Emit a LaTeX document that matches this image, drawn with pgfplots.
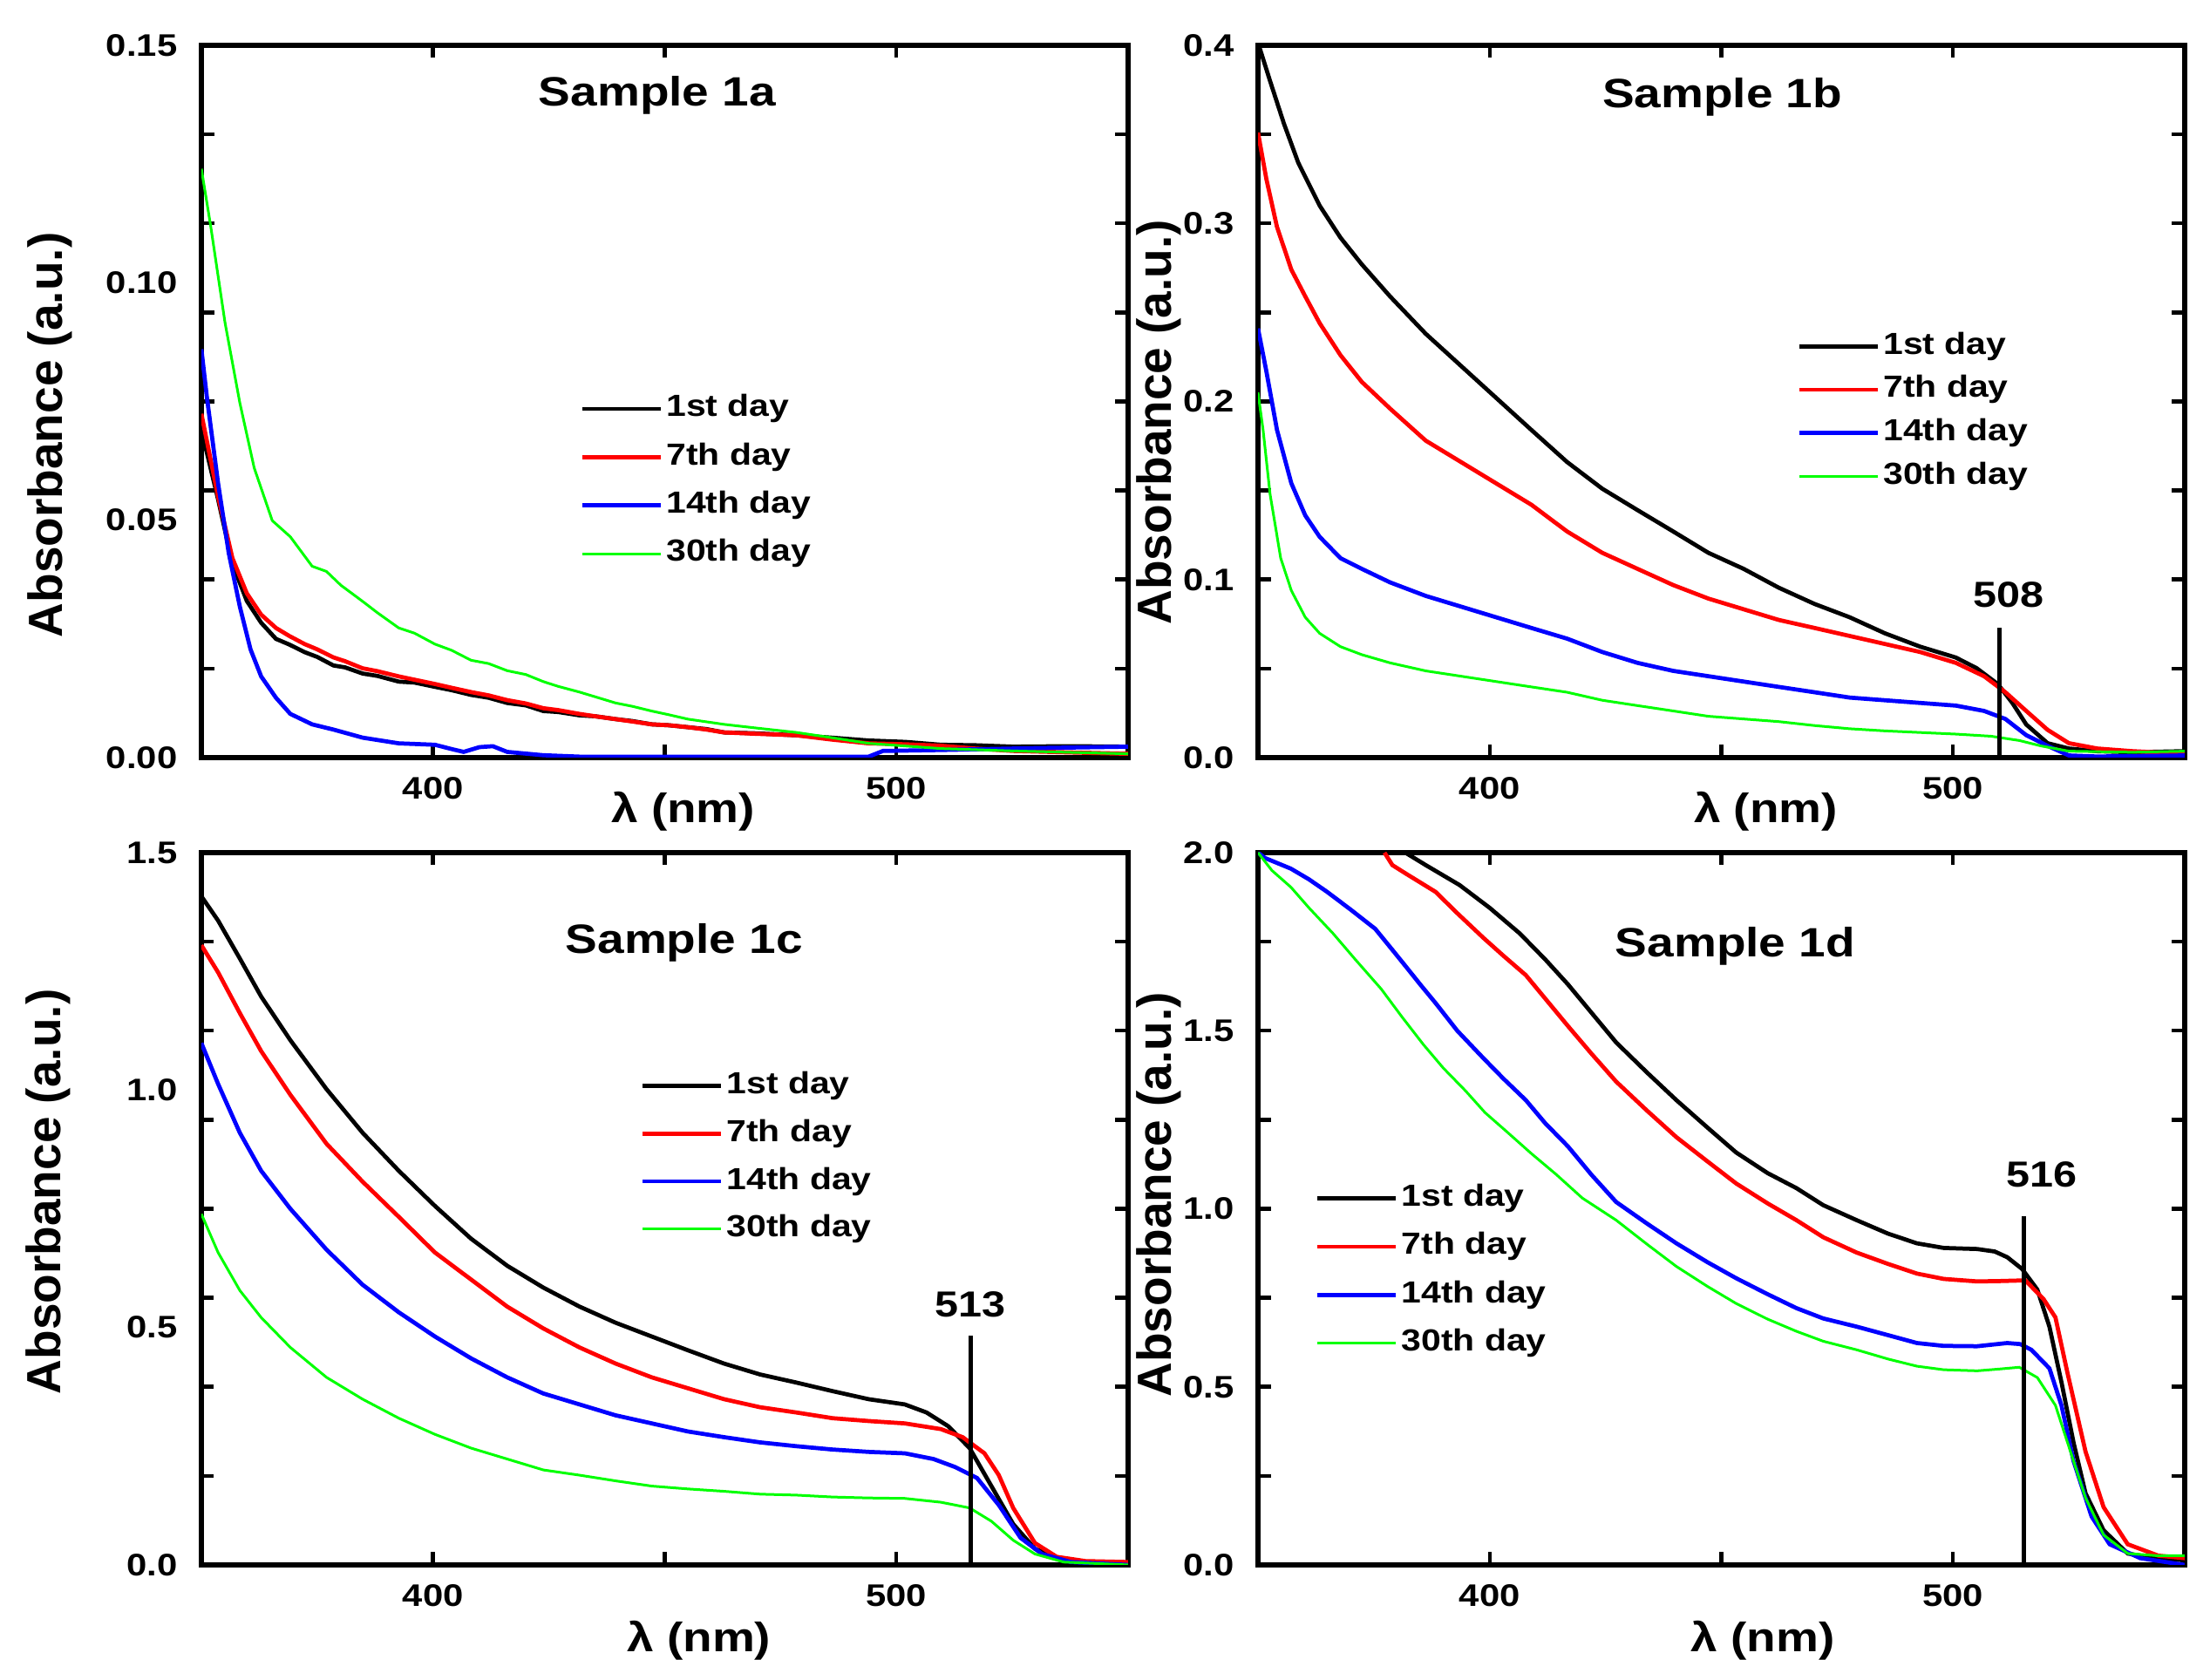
\documentclass[border=0pt]{standalone}
\usepackage{fontspec}
\setmainfont{Liberation Sans}
\newfontfamily\sx[FakeStretch=1.17]{Liberation Sans}
\usepackage{pgfplots}
\pgfplotsset{compat=1.18}
\definecolor{cgreen}{RGB}{0,255,0}
\definecolor{cred}{RGB}{255,0,0}
\definecolor{cblue}{RGB}{0,0,255}
\tikzset{ann/.style={font=\sx\bfseries\fontsize{8.3}{10}\selectfont}}
\pgfplotsset{
 uvstyle/.style={
   scale only axis, width=212.6pt, height=163.4pt,
   xmin=350, xmax=550,
   xtick={400,450,500}, xticklabels={400,,500},
   axis line style={line width=1.05pt},
   every tick/.style={black, line width=0.9pt},
   major tick length=2.9pt, minor tick length=2.9pt,
   tick label style={font=\sx\bfseries\fontsize{7.15}{8.6}\selectfont},
   yticklabel style={xshift=-2.0pt},
   xticklabel style={yshift=-0.9pt},
   xlabel style={font=\sx\bfseries\fontsize{9.4}{11}\selectfont},
   ylabel style={font=\bfseries\fontsize{11}{13}\selectfont},
   every axis title/.style={at={(0.5,1)}, anchor=center, font=\sx\bfseries\fontsize{9.4}{11}\selectfont},
   ylabel={Absorbance (a.u.)},
   xlabel={λ (nm)},
   legend style={draw=none, fill=none, inner sep=0pt, anchor=west,
     font=\sx\bfseries\fontsize{7}{8.4}\selectfont, cells={anchor=west},
     nodes={inner xsep=0.8pt, inner ysep=0pt}},
   legend image code/.code={\draw[##1] (0pt,0pt) -- (18pt,0pt);},
 },
 l1/.style={black, line width=0.95pt},
 l7/.style={cred, line width=0.95pt},
 l14/.style={cblue, line width=0.95pt},
 l30/.style={cgreen, line width=0.6pt},
}
\begin{document}
\begin{tikzpicture}
\path[use as bounding box] (0,0) rectangle (507pt,385.4pt);
% ---------------- Sample 1a
\begin{axis}[uvstyle, at={(46.2pt,211.6pt)}, anchor=south west,
  ymin=0, ymax=0.15,
  ytick={0.01875,0.0375,0.05625,0.075,0.09375,0.1125,0.13125}, yticklabels={},
  extra y ticks={0,0.05,0.10,0.15}, extra y tick labels={0.00,0.05,0.10,0.15},
  extra y tick style={tick style={draw=none}},
  title={Sample 1a}, title style={at={(axis description cs:0.492,0.93)}},
  ylabel style={at={(axis description cs:-0.163,0.453)}, anchor=center},
  xlabel style={at={(axis description cs:0.52,-0.076)}, anchor=center},
  legend style={at={(axis description cs:0.4078,0.388)}, row sep=4.5pt}]
\addplot[l1] coordinates {(350,0.069) (353.6,0.0544) (356.7,0.0408) (359.8,0.033) (362.9,0.0284) (366.1,0.025) (369,0.0238) (372.3,0.0222) (375,0.0212) (378.5,0.0194) (381,0.0190) (384.8,0.0177) (388,0.0172) (392.6,0.016) (396,0.0158) (400.4,0.0149) (404,0.0142) (408.2,0.0132) (412,0.0126) (416,0.0115) (420,0.0110) (423.8,0.0098) (427,0.0096) (431.6,0.0089) (435,0.0087) (439.4,0.0081) (443,0.0077) (447.2,0.007) (451,0.0068) (455,0.0064) (459,0.0060) (462.8,0.0053) (470,0.0051) (478.4,0.0047) (486,0.0042) (494,0.0036) (502,0.0033) (509.6,0.0027) (517,0.0026) (525.2,0.0023) (537,0.0024) (550,0.0023)};
\addlegendentry{1st day}
\addplot[l7] coordinates {(350,0.0724) (353.6,0.055) (356.7,0.042) (359.8,0.0346) (362.9,0.0301) (366.1,0.0273) (369,0.0256) (372.3,0.0239) (375,0.0228) (378.5,0.0211) (381,0.0203) (384.8,0.0188) (388,0.0182) (392.6,0.0171) (396,0.0164) (400.4,0.0155) (404,0.0147) (408.2,0.0138) (412,0.0131) (416,0.0121) (420,0.0114) (423.8,0.0104) (427,0.0100) (431.6,0.0092) (435,0.0087) (439.4,0.0081) (443,0.0076) (447.2,0.007) (451,0.0068) (455,0.0064) (459,0.0059) (462.8,0.0053) (470,0.0050) (478.4,0.0047) (486,0.0038) (494,0.003) (502,0.0028) (509.6,0.0025) (517,0.0019) (525.2,0.0014) (537,0.0011) (550,0.0008)};
\addlegendentry{7th day}
\addplot[l14] coordinates {(350,0.086) (351.2,0.0758) (353.6,0.0578) (355.9,0.0431) (358.3,0.0318) (360.6,0.0228) (362.9,0.0171) (366.1,0.0126) (369.2,0.0092) (373.9,0.007) (378.5,0.0059) (384.8,0.0042) (392.6,0.003) (400.4,0.0027) (404,0.0018) (406.6,0.0012) (410,0.0022) (412.9,0.0024) (416,0.0012) (423.8,0.0005) (431.6,0.0002) (494,0.0002) (497.1,0.0014) (509.6,0.0016) (530,0.0020) (550,0.0023)};
\addlegendentry{14th day}
\addplot[l30] coordinates {(350,0.124) (352,0.112) (355.1,0.0916) (358.3,0.0747) (361.4,0.061) (365.3,0.0499) (369.2,0.0465) (373.9,0.0403) (377,0.0392) (380.1,0.0363) (384.8,0.0329) (388,0.0305) (392.6,0.0273) (396,0.0262) (400.4,0.0239) (404,0.0226) (408.2,0.0205) (412,0.0198) (416,0.0183) (420,0.0175) (423.8,0.016) (427,0.0150) (431.6,0.0138) (435,0.0128) (439.4,0.0115) (443,0.0108) (447.2,0.0098) (451,0.0090) (455,0.0081) (462.8,0.007) (470,0.0062) (478.4,0.0053) (486,0.0042) (494,0.003) (509.6,0.0019) (525.2,0.0014) (550,0.0008)};
\addlegendentry{30th day}
\end{axis}
% ---------------- Sample 1b
\begin{axis}[uvstyle, at={(288.6pt,211.6pt)}, anchor=south west,
  ymin=0, ymax=0.4,
  ytick={0,0.05,0.1,0.15,0.2,0.25,0.3,0.35,0.4}, yticklabels={0.0,,0.1,,0.2,,0.3,,0.4},
  title={Sample 1b}, title style={at={(axis description cs:0.501,0.927)}},
  ylabel style={at={(axis description cs:-0.107,0.471)}, anchor=center},
  xlabel style={at={(axis description cs:0.548,-0.076)}, anchor=center},
  legend style={at={(axis description cs:0.581,0.486)}, row sep=3.4pt}]
\addplot[l1] coordinates {(350.3,0.399) (352.6,0.380) (355.6,0.356) (358.7,0.334) (363.3,0.310) (367.8,0.292) (372.4,0.277) (378.5,0.259) (386.2,0.238) (393.8,0.220) (401.4,0.202) (409,0.184) (416.7,0.166) (424.3,0.151) (431.9,0.139) (439.6,0.127) (447.2,0.115) (454.8,0.106) (462.4,0.0954) (470.1,0.0863) (477.7,0.0788) (485.3,0.0698) (492.9,0.0623) (500.6,0.0562) (505.1,0.0502) (509.7,0.0412) (512.8,0.0307) (515.8,0.0186) (520.4,0.0081) (525,0.0051) (531.1,0.0036) (538.7,0.003) (550,0.0036)};
\addlegendentry{1st day}
\addplot[l7] coordinates {(350,0.351) (351.8,0.325) (354.1,0.298) (357.2,0.274) (360.2,0.259) (363.3,0.244) (367.8,0.226) (372.4,0.211) (378.5,0.196) (386.2,0.178) (393.8,0.166) (401.4,0.154) (409,0.142) (416.7,0.127) (424.3,0.115) (431.9,0.106) (439.6,0.0969) (447.2,0.0893) (454.8,0.0833) (462.4,0.0773) (470.1,0.0728) (477.7,0.0683) (485.3,0.0638) (492.9,0.0593) (500.6,0.0532) (506.7,0.0457) (511.3,0.0367) (515.8,0.0262) (520.4,0.0156) (525,0.0081) (531.1,0.0051) (538.7,0.0036) (550,0.0021)};
\addlegendentry{7th day}
\addplot[l14] coordinates {(350,0.241) (351.8,0.217) (354.1,0.184) (357.2,0.154) (360.2,0.136) (363.3,0.124) (367.8,0.112) (372.4,0.106) (378.5,0.0984) (386.2,0.0908) (393.8,0.0848) (401.4,0.0788) (409,0.0728) (416.7,0.0668) (424.3,0.0593) (431.9,0.0532) (439.6,0.0487) (447.2,0.0457) (454.8,0.0427) (462.4,0.0397) (470.1,0.0367) (477.7,0.0337) (485.3,0.0322) (492.9,0.0307) (500.6,0.0292) (506.7,0.0262) (511.3,0.0217) (515.8,0.0126) (520.4,0.0066) (525,0.0012) (531.1,0.0006) (550,0.0012)};
\addlegendentry{14th day}
\addplot[l30] coordinates {(350,0.205) (351.1,0.184) (352.6,0.148) (354.9,0.112) (357.2,0.0938) (360.2,0.0788) (363.3,0.0698) (367.8,0.0623) (372.4,0.0578) (378.5,0.0532) (386.2,0.0487) (393.8,0.0457) (401.4,0.0427) (409,0.0397) (416.7,0.0367) (424.3,0.0322) (431.9,0.0292) (439.6,0.0262) (447.2,0.0232) (454.8,0.0217) (462.4,0.0202) (470.1,0.018) (477.7,0.0162) (485.3,0.015) (492.9,0.0141) (500.6,0.0132) (508.2,0.012) (514.3,0.0096) (518.9,0.0066) (525,0.0036) (538.7,0.003) (550,0.0036)};
\addlegendentry{30th day}
\addplot[black, line width=0.95pt, forget plot] coordinates {(510,0) (510,0.0728)};
\node[ann] at (axis cs:512,0.0913) {508};
\end{axis}
% ---------------- Sample 1c
\begin{axis}[uvstyle, at={(46.2pt,26.4pt)}, anchor=south west,
  ymin=0, ymax=1.5,
  ytick={0.1875,0.375,0.5625,0.75,0.9375,1.125,1.3125}, yticklabels={},
  extra y ticks={0,0.5,1.0,1.5}, extra y tick labels={0.0,0.5,1.0,1.5},
  extra y tick style={tick style={draw=none}},
  title={Sample 1c}, title style={at={(axis description cs:0.521,0.873)}},
  ylabel style={at={(axis description cs:-0.165,0.524)}, anchor=center},
  xlabel style={at={(axis description cs:0.537,-0.106)}, anchor=center},
  legend style={at={(axis description cs:0.473,0.572)}, row sep=4.4pt}]
\addplot[l1] coordinates {(350,1.408) (353.6,1.357) (358.3,1.277) (362.9,1.197) (369.2,1.105) (377,1.002) (384.8,0.910) (392.6,0.830) (400.4,0.756) (408.2,0.687) (416,0.630) (423.8,0.584) (431.6,0.544) (439.4,0.510) (447.2,0.481) (455,0.452) (462.8,0.424) (470.6,0.401) (478.4,0.384) (486.2,0.366) (494,0.349) (501.8,0.338) (506.5,0.321) (511.2,0.292) (515.8,0.246) (520.5,0.166) (525.2,0.086) (529.9,0.034) (534.6,0.015) (540.8,0.006) (550,0.003)};
\addlegendentry{1st day}
\addplot[l7] coordinates {(350,1.305) (353.6,1.248) (358.3,1.162) (362.9,1.082) (369.2,0.990) (377,0.887) (384.8,0.807) (392.6,0.733) (400.4,0.658) (408.2,0.601) (416,0.544) (423.8,0.498) (431.6,0.458) (439.4,0.424) (447.2,0.395) (455,0.372) (462.8,0.349) (470.6,0.332) (478.4,0.321) (486.2,0.309) (494,0.303) (501.8,0.298) (509.6,0.286) (514.3,0.269) (519,0.235) (522.1,0.189) (525.2,0.120) (529.9,0.046) (534.6,0.017) (540.8,0.008) (550,0.006)};
\addlegendentry{7th day}
\addplot[l14] coordinates {(350,1.099) (353.6,1.013) (358.3,0.910) (362.9,0.830) (369.2,0.750) (377,0.664) (384.8,0.590) (392.6,0.532) (400.4,0.481) (408.2,0.435) (416,0.395) (423.8,0.361) (431.6,0.338) (439.4,0.315) (447.2,0.298) (455,0.281) (462.8,0.269) (470.6,0.258) (478.4,0.250) (486.2,0.243) (494,0.238) (501.8,0.235) (508,0.223) (512.7,0.206) (517.4,0.183) (522.1,0.126) (526.8,0.057) (531.4,0.023) (537.7,0.006) (550,0.0)};
\addlegendentry{14th day}
\addplot[l30] coordinates {(350,0.739) (353.6,0.658) (358.3,0.578) (362.9,0.521) (369.2,0.458) (377,0.395) (384.8,0.349) (392.6,0.309) (400.4,0.275) (408.2,0.246) (416,0.223) (423.8,0.200) (431.6,0.189) (439.4,0.177) (447.2,0.166) (455,0.160) (462.8,0.155) (470.6,0.149) (478.4,0.147) (486.2,0.143) (494,0.141) (501.8,0.140) (509.6,0.132) (515.8,0.120) (520.5,0.092) (525.2,0.052) (529.9,0.023) (536.1,0.006) (550,0.0)};
\addlegendentry{30th day}
\addplot[black, line width=0.95pt, forget plot] coordinates {(516,0) (516,0.483)};
\node[ann] at (axis cs:516,0.548) {513};
\end{axis}
% ---------------- Sample 1d
\begin{axis}[uvstyle, at={(288.6pt,26.4pt)}, anchor=south west,
  ymin=0, ymax=2.0,
  ytick={0,0.25,0.5,0.75,1.0,1.25,1.5,1.75,2.0}, yticklabels={0.0,,0.5,,1.0,,1.5,,2.0},
  title={Sample 1d}, title style={at={(axis description cs:0.515,0.868)}},
  ylabel style={at={(axis description cs:-0.107,0.52)}, anchor=center},
  xlabel style={at={(axis description cs:0.545,-0.106)}, anchor=center},
  legend style={at={(axis description cs:0.061,0.413)}, row sep=4.5pt}]
\addplot[l1] coordinates {(381.8,2.0) (386.2,1.965) (393.5,1.909) (400,1.845) (406.5,1.773) (412,1.700) (416.9,1.630) (422,1.550) (427.3,1.467) (434,1.382) (440.3,1.305) (447,1.228) (453.2,1.158) (460,1.100) (466.2,1.058) (472,1.010) (479.2,0.968) (486,0.930) (492.2,0.903) (498,0.890) (505.2,0.887) (509,0.880) (511.7,0.864) (514.9,0.831) (518.2,0.773) (520.8,0.669) (523.4,0.513) (526,0.344) (528.6,0.201) (532.5,0.097) (537.7,0.032) (544,0.018) (550,0.013)};
\addlegendentry{1st day}
\addplot[l7] coordinates {(377.3,2.0) (379,1.965) (381.8,1.942) (388.3,1.890) (393,1.830) (398.7,1.760) (403,1.710) (407.8,1.656) (412,1.590) (416.9,1.513) (422,1.435) (427.3,1.357) (434,1.275) (440.3,1.201) (447,1.133) (453.2,1.071) (460,1.015) (466.2,0.968) (472,0.920) (479.2,0.877) (486,0.845) (492.2,0.818) (498,0.803) (505.2,0.796) (510,0.797) (515.6,0.799) (519.5,0.747) (522.1,0.695) (524.7,0.539) (528.6,0.318) (532.5,0.162) (537.7,0.058) (544.3,0.026) (550,0.019)};
\addlegendentry{7th day}
\addplot[l14] coordinates {(350,2.0) (351.5,1.985) (357.1,1.955) (361,1.925) (364.9,1.890) (370,1.840) (375.3,1.786) (378.5,1.735) (381.8,1.682) (385,1.630) (388.3,1.578) (393,1.500) (398.7,1.422) (403,1.365) (407.8,1.305) (412,1.240) (416.9,1.175) (422,1.095) (427.3,1.019) (434,0.958) (440.3,0.903) (447,0.850) (453.2,0.805) (460,0.760) (466.2,0.721) (472,0.692) (479.2,0.669) (486,0.645) (492.2,0.623) (498,0.615) (505.2,0.614) (511.7,0.623) (514.5,0.620) (516.9,0.604) (520.8,0.552) (523.4,0.448) (526,0.292) (529.9,0.136) (533.8,0.058) (540.4,0.019) (550,0.0)};
\addlegendentry{14th day}
\addplot[l30] coordinates {(350,2.0) (353,1.950) (357.1,1.903) (361,1.845) (366.2,1.773) (371,1.700) (376.6,1.617) (381,1.540) (385.7,1.461) (390,1.395) (394.8,1.331) (399,1.270) (403.9,1.214) (409,1.155) (414.3,1.097) (420,1.030) (427.3,0.968) (434,0.900) (440.3,0.838) (447,0.782) (453.2,0.734) (460,0.690) (466.2,0.656) (472,0.628) (479.2,0.604) (486,0.578) (492.2,0.558) (498,0.548) (505.2,0.545) (510,0.550) (514.3,0.555) (518.2,0.526) (522.1,0.448) (524.7,0.344) (528.6,0.188) (532.5,0.084) (537.7,0.032) (544,0.026) (550,0.026)};
\addlegendentry{30th day}
\addplot[black, line width=0.95pt, forget plot] coordinates {(515.3,0) (515.3,0.98)};
\node[ann] at (axis cs:519.2,1.096) {516};
\end{axis}
\end{tikzpicture}
\end{document}
